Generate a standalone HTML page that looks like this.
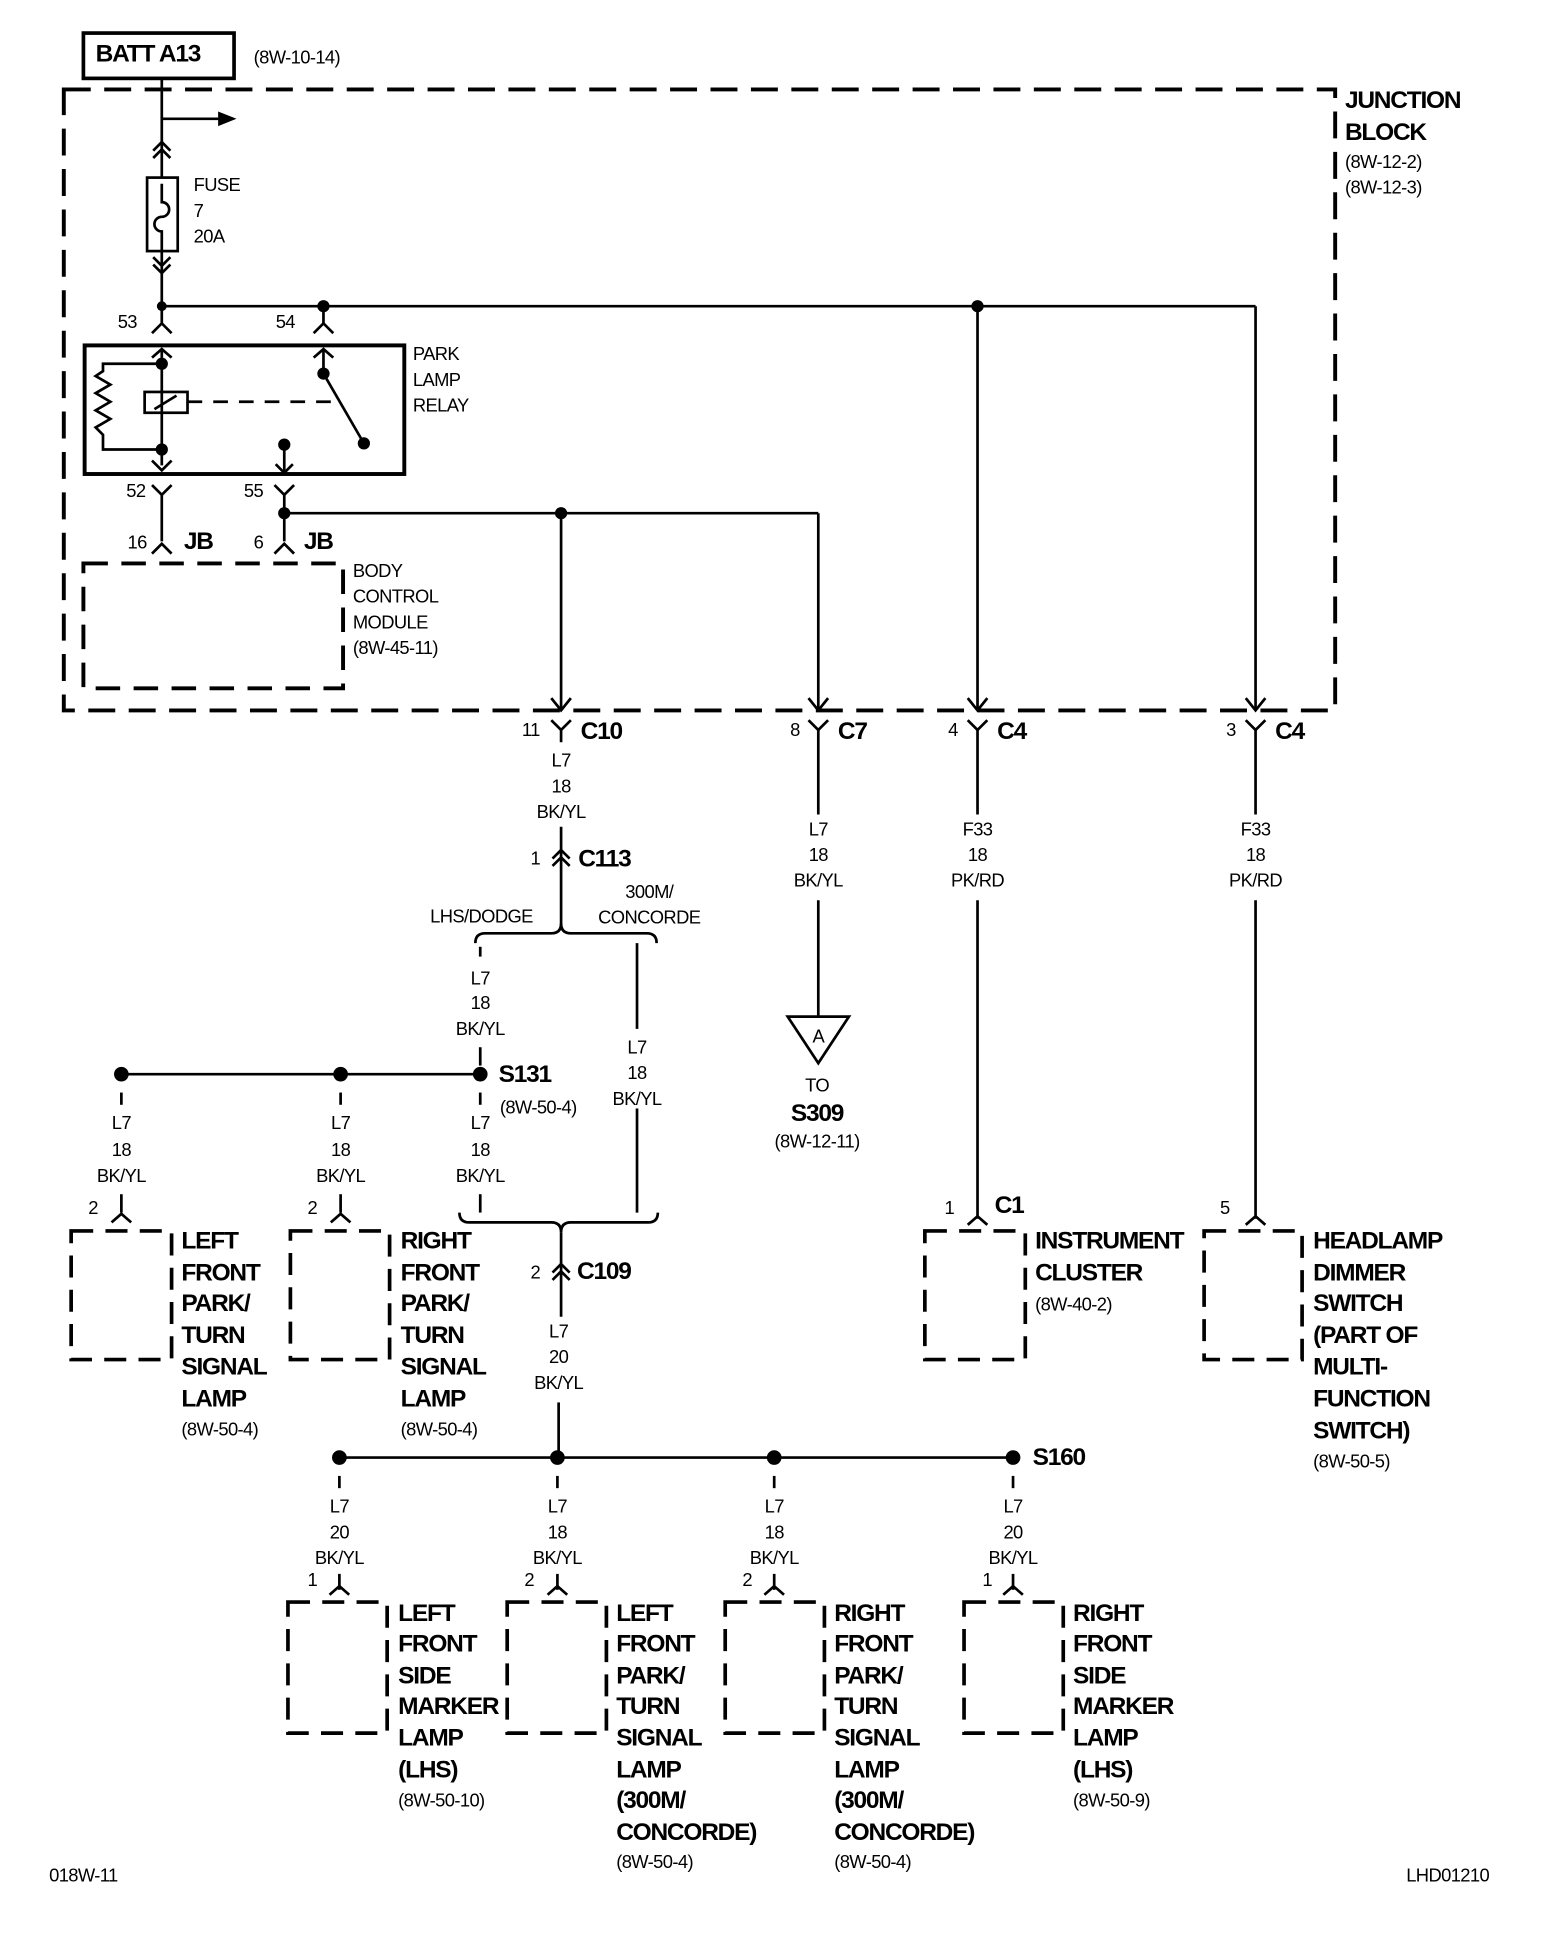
<!DOCTYPE html>
<html><head><meta charset="utf-8"><style>
html,body{margin:0;padding:0;background:#fff}
svg{display:block}
text{font-family:"Liberation Sans Narrow","Liberation Sans",sans-serif;fill:#000;dominant-baseline:middle}
.b{font-weight:bold;font-size:20px;letter-spacing:-1px}
.s{font-size:15px;letter-spacing:-0.5px}
.m{text-anchor:middle}
</style></head><body>
<svg width="1568" height="1934" viewBox="0 0 1280 1579" xmlns="http://www.w3.org/2000/svg">
<g fill="none" stroke="#000" stroke-width="2.2">
<rect x="68" y="27" width="123" height="37" stroke-width="3"/>
<rect x="52" y="73" width="1038" height="507" stroke-width="3.2" stroke-dasharray="22,11"/>
<line x1="132" y1="64" x2="132" y2="145"/>
<line x1="132" y1="97" x2="180" y2="97"/>
<line x1="132" y1="205" x2="132" y2="258"/>
<polyline points="125,123 132,116 139,123"/><polyline points="125,129 132,122 139,129"/>
<rect x="120" y="145" width="25" height="60"/>
<path d="M132,150 v15 a6,6 0 0 1 0,12 a6,6 0 0 0 0,12 v16"/>
<polyline points="125,210 132,217 139,210"/><polyline points="125,216 132,223 139,216"/>
<line x1="132" y1="250" x2="1025" y2="250"/>
<line x1="264" y1="250" x2="264" y2="258"/>
<line x1="798" y1="250" x2="798" y2="580"/>
<line x1="1025" y1="250" x2="1025" y2="580"/>
<polyline points="124,272 132,264 140,272"/><line x1="132" y1="258" x2="132" y2="264"/>
<polyline points="256,272 264,264 272,272"/><line x1="264" y1="258" x2="264" y2="264"/>
<rect x="69" y="282" width="261" height="105" stroke-width="3.2"/>
<polyline points="124,292 132,285 140,292"/><line x1="132" y1="285" x2="132" y2="380"/>
<polyline points="256,292 264,285 272,292"/><line x1="264" y1="285" x2="264" y2="305"/>
<polyline points="132,367 84,367 84,355 78,349 90,342 78,335 90,328 78,321 90,314 78,307 84,303 84,297 132,297"/>
<rect x="118" y="320" width="35" height="17"/>
<line x1="126" y1="334" x2="144" y2="323"/>
<line x1="153" y1="328" x2="278" y2="328" stroke-dasharray="12,9"/>
<line x1="264" y1="305" x2="297" y2="362"/>
<line x1="232" y1="363" x2="232" y2="387"/>
<polyline points="225,379 232,386 239,379"/>
<polyline points="124,376 132,384 140,376"/>
<polyline points="124,396 132,404 140,396"/><line x1="132" y1="404" x2="132" y2="442"/>
<polyline points="224,396 232,404 240,396"/><line x1="232" y1="404" x2="232" y2="442"/>
<polyline points="124,452 132,444 140,452"/>
<polyline points="224,452 232,444 240,452"/>
<line x1="232" y1="419" x2="668" y2="419"/>
<line x1="458" y1="419" x2="458" y2="580"/>
<line x1="668" y1="419" x2="668" y2="580"/>
<rect x="68" y="460" width="212" height="102" stroke-width="3.2" stroke-dasharray="20,11"/>
<polyline points="450,570 458,580 466,570"/><polyline points="660,570 668,580 676,570"/>
<polyline points="790,570 798,580 806,570"/><polyline points="1017,570 1025,580 1033,570"/>
<polyline points="450,588 458,596 466,588"/><line x1="458" y1="596" x2="458" y2="606"/>
<polyline points="660,588 668,596 676,588"/><line x1="668" y1="596" x2="668" y2="665"/>
<polyline points="790,588 798,596 806,588"/><line x1="798" y1="596" x2="798" y2="665"/>
<polyline points="1017,588 1025,596 1033,588"/><line x1="1025" y1="596" x2="1025" y2="665"/>
<line x1="668" y1="735" x2="668" y2="830"/>
<polygon points="643,830 693,830 668,868"/>
<line x1="798" y1="735" x2="798" y2="995"/>
<line x1="1025" y1="735" x2="1025" y2="995"/>
<polyline points="790,1000 798,993 806,1000"/>
<polyline points="1017,1000 1025,993 1033,1000"/>
<line x1="458" y1="675" x2="458" y2="757"/>
<polyline points="451,701 458,694 465,701"/><polyline points="451,707 458,700 465,707"/>
<path d="M388,770 q0,-8 8,-8 h54 q8,0 8,-8 q0,8 8,8 h62 q8,0 8,8"/>
<line x1="392" y1="773" x2="392" y2="781"/>
<line x1="392" y1="855" x2="392" y2="870"/>
<line x1="520" y1="770" x2="520" y2="840"/>
<line x1="520" y1="905" x2="520" y2="990"/>
<line x1="99" y1="877" x2="392" y2="877"/>
<line x1="99" y1="892" x2="99" y2="902"/><line x1="278" y1="892" x2="278" y2="902"/><line x1="392" y1="892" x2="392" y2="902"/>
<line x1="99" y1="975" x2="99" y2="990"/><line x1="278" y1="975" x2="278" y2="990"/><line x1="392" y1="975" x2="392" y2="990"/>
<polyline points="91,998 99,991 107,998"/><polyline points="270,998 278,991 286,998"/>
<path d="M375,990 q0,8 8,8 h67 q8,0 8,8 q0,-8 8,-8 h63 q8,0 8,-8"/>
<line x1="458" y1="1006" x2="458" y2="1075"/>
<polyline points="451,1039 458,1032 465,1039"/><polyline points="451,1045 458,1038 465,1045"/>
<line x1="456" y1="1145" x2="456" y2="1190"/>
<g stroke-width="3" stroke-dasharray="18,10">
<rect x="58" y="1005" width="82" height="105"/>
<rect x="237" y="1005" width="81" height="105"/>
<rect x="755" y="1005" width="82" height="105"/>
<rect x="983" y="1005" width="80" height="105"/>
<rect x="235" y="1308" width="81" height="107"/>
<rect x="414" y="1308" width="81" height="107"/>
<rect x="592" y="1308" width="81" height="107"/>
<rect x="787" y="1308" width="81" height="107"/>
</g>
<line x1="277" y1="1190" x2="827" y2="1190"/>
<g>
<line x1="277" y1="1205" x2="277" y2="1215"/><line x1="455" y1="1205" x2="455" y2="1215"/><line x1="632" y1="1205" x2="632" y2="1215"/><line x1="827" y1="1205" x2="827" y2="1215"/>
<line x1="277" y1="1285" x2="277" y2="1298"/><line x1="455" y1="1285" x2="455" y2="1298"/><line x1="632" y1="1285" x2="632" y2="1298"/><line x1="827" y1="1285" x2="827" y2="1298"/>
<polyline points="269,1302 277,1295 285,1302"/><polyline points="447,1302 455,1295 463,1302"/><polyline points="624,1302 632,1295 640,1302"/><polyline points="819,1302 827,1295 835,1302"/>
</g>
</g>
<polygon points="178,91 193,97 178,103" fill="#000"/>
<g fill="#000">
<circle cx="132" cy="250" r="4"/><circle cx="264" cy="250" r="5"/><circle cx="798" cy="250" r="5"/>
<circle cx="132" cy="297" r="5"/><circle cx="132" cy="367" r="5"/><circle cx="264" cy="305" r="5"/><circle cx="297" cy="362" r="5"/><circle cx="232" cy="363" r="5"/>
<circle cx="232" cy="419" r="5"/><circle cx="458" cy="419" r="5"/>
<circle cx="99" cy="877" r="6"/><circle cx="278" cy="877" r="6"/><circle cx="392" cy="877" r="6"/>
<circle cx="277" cy="1190" r="6"/><circle cx="455" cy="1190" r="6"/><circle cx="632" cy="1190" r="6"/><circle cx="827" cy="1190" r="6"/>
</g>
<text class="b" x="78" y="45">BATT A13</text>
<text class="s" x="207" y="48">(8W-10-14)</text>
<text class="b" x="1098" y="83">JUNCTION</text><text class="b" x="1098" y="109">BLOCK</text>
<text class="s" x="1098" y="133">(8W-12-2)</text><text class="s" x="1098" y="154">(8W-12-3)</text>
<text class="s" x="158" y="152">FUSE</text><text class="s" x="158" y="173">7</text><text class="s" x="158" y="194">20A</text>
<text class="s" x="96" y="264">53</text><text class="s" x="225" y="264">54</text>
<text class="s" x="337" y="290">PARK</text><text class="s" x="337" y="311">LAMP</text><text class="s" x="337" y="332">RELAY</text>
<text class="s" x="103" y="402">52</text><text class="s" x="199" y="402">55</text>
<text class="s" x="104" y="444">16</text><text class="b" x="150" y="443">JB</text>
<text class="s" x="207" y="444">6</text><text class="b" x="248" y="443">JB</text>
<text class="s" x="288" y="467">BODY</text><text class="s" x="288" y="488">CONTROL</text><text class="s" x="288" y="509">MODULE</text><text class="s" x="288" y="530">(8W-45-11)</text>
<text class="s" x="426" y="597">11</text><text class="b" x="474" y="598">C10</text>
<text class="s" x="645" y="597">8</text><text class="b" x="684" y="598">C7</text>
<text class="s" x="774" y="597">4</text><text class="b" x="814" y="598">C4</text>
<text class="s" x="1001" y="597">3</text><text class="b" x="1041" y="598">C4</text>
<text class="s m" x="458" y="622">L7</text><text class="s m" x="458" y="643">18</text><text class="s m" x="458" y="664">BK/YL</text>
<text class="s m" x="668" y="678">L7</text><text class="s m" x="668" y="699">18</text><text class="s m" x="668" y="720">BK/YL</text>
<text class="s m" x="798" y="678">F33</text><text class="s m" x="798" y="699">18</text><text class="s m" x="798" y="720">PK/RD</text>
<text class="s m" x="1025" y="678">F33</text><text class="s m" x="1025" y="699">18</text><text class="s m" x="1025" y="720">PK/RD</text>
<text class="s" x="433" y="702">1</text><text class="b" x="472" y="702">C113</text>
<text class="s m" x="393" y="749">LHS/DODGE</text>
<text class="s m" x="530" y="729">300M/</text><text class="s m" x="530" y="750">CONCORDE</text>
<text class="s m" x="392" y="800">L7</text><text class="s m" x="392" y="820">18</text><text class="s m" x="392" y="841">BK/YL</text>
<text class="s m" x="520" y="856">L7</text><text class="s m" x="520" y="877">18</text><text class="s m" x="520" y="898">BK/YL</text>
<text class="s m" x="668" y="847">A</text>
<text class="s m" x="667" y="887">TO</text><text class="b m" x="667" y="910">S309</text><text class="s m" x="667" y="933">(8W-12-11)</text>
<text class="b" x="407" y="878">S131</text><text class="s" x="408" y="905">(8W-50-4)</text>
<text class="s m" x="99" y="918">L7</text><text class="s m" x="99" y="940">18</text><text class="s m" x="99" y="961">BK/YL</text>
<text class="s m" x="278" y="918">L7</text><text class="s m" x="278" y="940">18</text><text class="s m" x="278" y="961">BK/YL</text>
<text class="s m" x="392" y="918">L7</text><text class="s m" x="392" y="940">18</text><text class="s m" x="392" y="961">BK/YL</text>
<text class="s" x="72" y="987">2</text><text class="s" x="251" y="987">2</text>
<text class="s" x="771" y="987">1</text><text class="b" x="812" y="985">C1</text>
<text class="s" x="996" y="987">5</text>
<text class="b" x="148" y="1014">LEFT</text><text class="b" x="148" y="1040">FRONT</text><text class="b" x="148" y="1065">PARK/</text><text class="b" x="148" y="1091">TURN</text><text class="b" x="148" y="1117">SIGNAL</text><text class="b" x="148" y="1143">LAMP</text>
<text class="b" x="327" y="1014">RIGHT</text><text class="b" x="327" y="1040">FRONT</text><text class="b" x="327" y="1065">PARK/</text><text class="b" x="327" y="1091">TURN</text><text class="b" x="327" y="1117">SIGNAL</text><text class="b" x="327" y="1143">LAMP</text>
<text class="b" x="845" y="1014">INSTRUMENT</text><text class="b" x="845" y="1040">CLUSTER</text>
<text class="b" x="1072" y="1014">HEADLAMP</text><text class="b" x="1072" y="1040">DIMMER</text><text class="b" x="1072" y="1065">SWITCH</text><text class="b" x="1072" y="1091">(PART OF</text><text class="b" x="1072" y="1117">MULTI-</text><text class="b" x="1072" y="1143">FUNCTION</text><text class="b" x="1072" y="1169">SWITCH)</text>
<text class="s" x="148" y="1168">(8W-50-4)</text><text class="s" x="327" y="1168">(8W-50-4)</text>
<text class="s" x="845" y="1066">(8W-40-2)</text><text class="s" x="1072" y="1194">(8W-50-5)</text>
<text class="s" x="433" y="1040">2</text><text class="b" x="471" y="1039">C109</text>
<text class="s m" x="456" y="1088">L7</text><text class="s m" x="456" y="1109">20</text><text class="s m" x="456" y="1130">BK/YL</text>
<text class="b" x="843" y="1191">S160</text>
<text class="s m" x="277" y="1231">L7</text><text class="s m" x="277" y="1252">20</text><text class="s m" x="277" y="1273">BK/YL</text>
<text class="s m" x="455" y="1231">L7</text><text class="s m" x="455" y="1252">18</text><text class="s m" x="455" y="1273">BK/YL</text>
<text class="s m" x="632" y="1231">L7</text><text class="s m" x="632" y="1252">18</text><text class="s m" x="632" y="1273">BK/YL</text>
<text class="s m" x="827" y="1231">L7</text><text class="s m" x="827" y="1252">20</text><text class="s m" x="827" y="1273">BK/YL</text>
<text class="s" x="251" y="1291">1</text><text class="s" x="428" y="1291">2</text><text class="s" x="606" y="1291">2</text><text class="s" x="802" y="1291">1</text>
<text class="b" x="325" y="1318">LEFT</text><text class="b" x="325" y="1343">FRONT</text><text class="b" x="325" y="1369">SIDE</text><text class="b" x="325" y="1394">MARKER</text><text class="b" x="325" y="1420">LAMP</text><text class="b" x="325" y="1446">(LHS)</text><text class="s" x="325" y="1471">(8W-50-10)</text>
<text class="b" x="503" y="1318">LEFT</text><text class="b" x="503" y="1343">FRONT</text><text class="b" x="503" y="1369">PARK/</text><text class="b" x="503" y="1394">TURN</text><text class="b" x="503" y="1420">SIGNAL</text><text class="b" x="503" y="1446">LAMP</text><text class="b" x="503" y="1471">(300M/</text><text class="b" x="503" y="1497">CONCORDE)</text><text class="s" x="503" y="1521">(8W-50-4)</text>
<text class="b" x="681" y="1318">RIGHT</text><text class="b" x="681" y="1343">FRONT</text><text class="b" x="681" y="1369">PARK/</text><text class="b" x="681" y="1394">TURN</text><text class="b" x="681" y="1420">SIGNAL</text><text class="b" x="681" y="1446">LAMP</text><text class="b" x="681" y="1471">(300M/</text><text class="b" x="681" y="1497">CONCORDE)</text><text class="s" x="681" y="1521">(8W-50-4)</text>
<text class="b" x="876" y="1318">RIGHT</text><text class="b" x="876" y="1343">FRONT</text><text class="b" x="876" y="1369">SIDE</text><text class="b" x="876" y="1394">MARKER</text><text class="b" x="876" y="1420">LAMP</text><text class="b" x="876" y="1446">(LHS)</text><text class="s" x="876" y="1471">(8W-50-9)</text>
<text class="s" x="40" y="1532">018W-11</text>
<text class="s" x="1148" y="1532">LHD01210</text>
</svg>
</body></html>
